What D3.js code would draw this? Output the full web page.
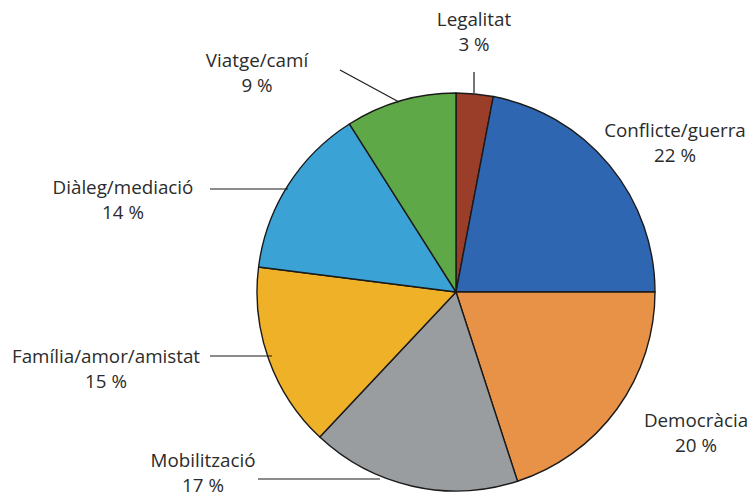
<!DOCTYPE html>
<html>
<head>
<meta charset="utf-8">
<script src="https://cdn.jsdelivr.net/npm/d3@7"></script>
<style>
html,body{margin:0;padding:0;background:#fff;}
svg{display:block;}
text{font-family:"Open Sans","Noto Sans",sans-serif;font-size:18.8px;fill:#2b2b2b;}
</style>
</head>
<body>
<svg id="chart" width="753" height="493"></svg>
<script>
const categories = ["Legalitat","Conflicte/guerra","Democràcia","Mobilització","Família/amor/amistat","Diàleg/mediació","Viatge/camí"];
const values = [3,22,20,17,15,14,9];
const colors = ["#9a3e2a","#2f66b1","#e79246","#9a9da0","#efb128","#3ba2d5","#5ea847"];
// label anchor positions (text block centre x, first line baseline y)
const labelPos = [[474,26],[675,137],[696,427],[203,467],[106,363],[123,194],[257,67]];
// leader lines [x1,y1,x2,y2]
const leaders = [[474,72,474,93],null,null,[258,479,380,479],[210,356,272,356],[210,189,288,189],[340,70,399,102]];

const svg = d3.select("#chart");
const cx = 456, cy = 292, r = 199;
const g = svg.append("g").attr("transform",`translate(${cx},${cy})`);
const pie = d3.pie().sort(null).value(d=>d);
const arc = d3.arc().innerRadius(0).outerRadius(r);
g.selectAll("path").data(pie(values)).join("path")
  .attr("d",arc)
  .attr("fill",(d,i)=>colors[i])
  .attr("stroke","#1a1a1a")
  .attr("stroke-width",1.4)
  .attr("stroke-linejoin","round");

svg.selectAll("line.leader").data(leaders.filter(d=>d)).join("line")
  .attr("class","leader")
  .attr("x1",d=>d[0]).attr("y1",d=>d[1]).attr("x2",d=>d[2]).attr("y2",d=>d[3])
  .attr("stroke","#1a1a1a").attr("stroke-width",1.2);

categories.forEach((c,i)=>{
  const t = svg.append("text").attr("text-anchor","middle");
  t.append("tspan").attr("x",labelPos[i][0]).attr("y",labelPos[i][1]).text(c);
  t.append("tspan").attr("x",labelPos[i][0]).attr("y",labelPos[i][1]+25).text(values[i]+" %");
});
</script>
</body>
</html>
